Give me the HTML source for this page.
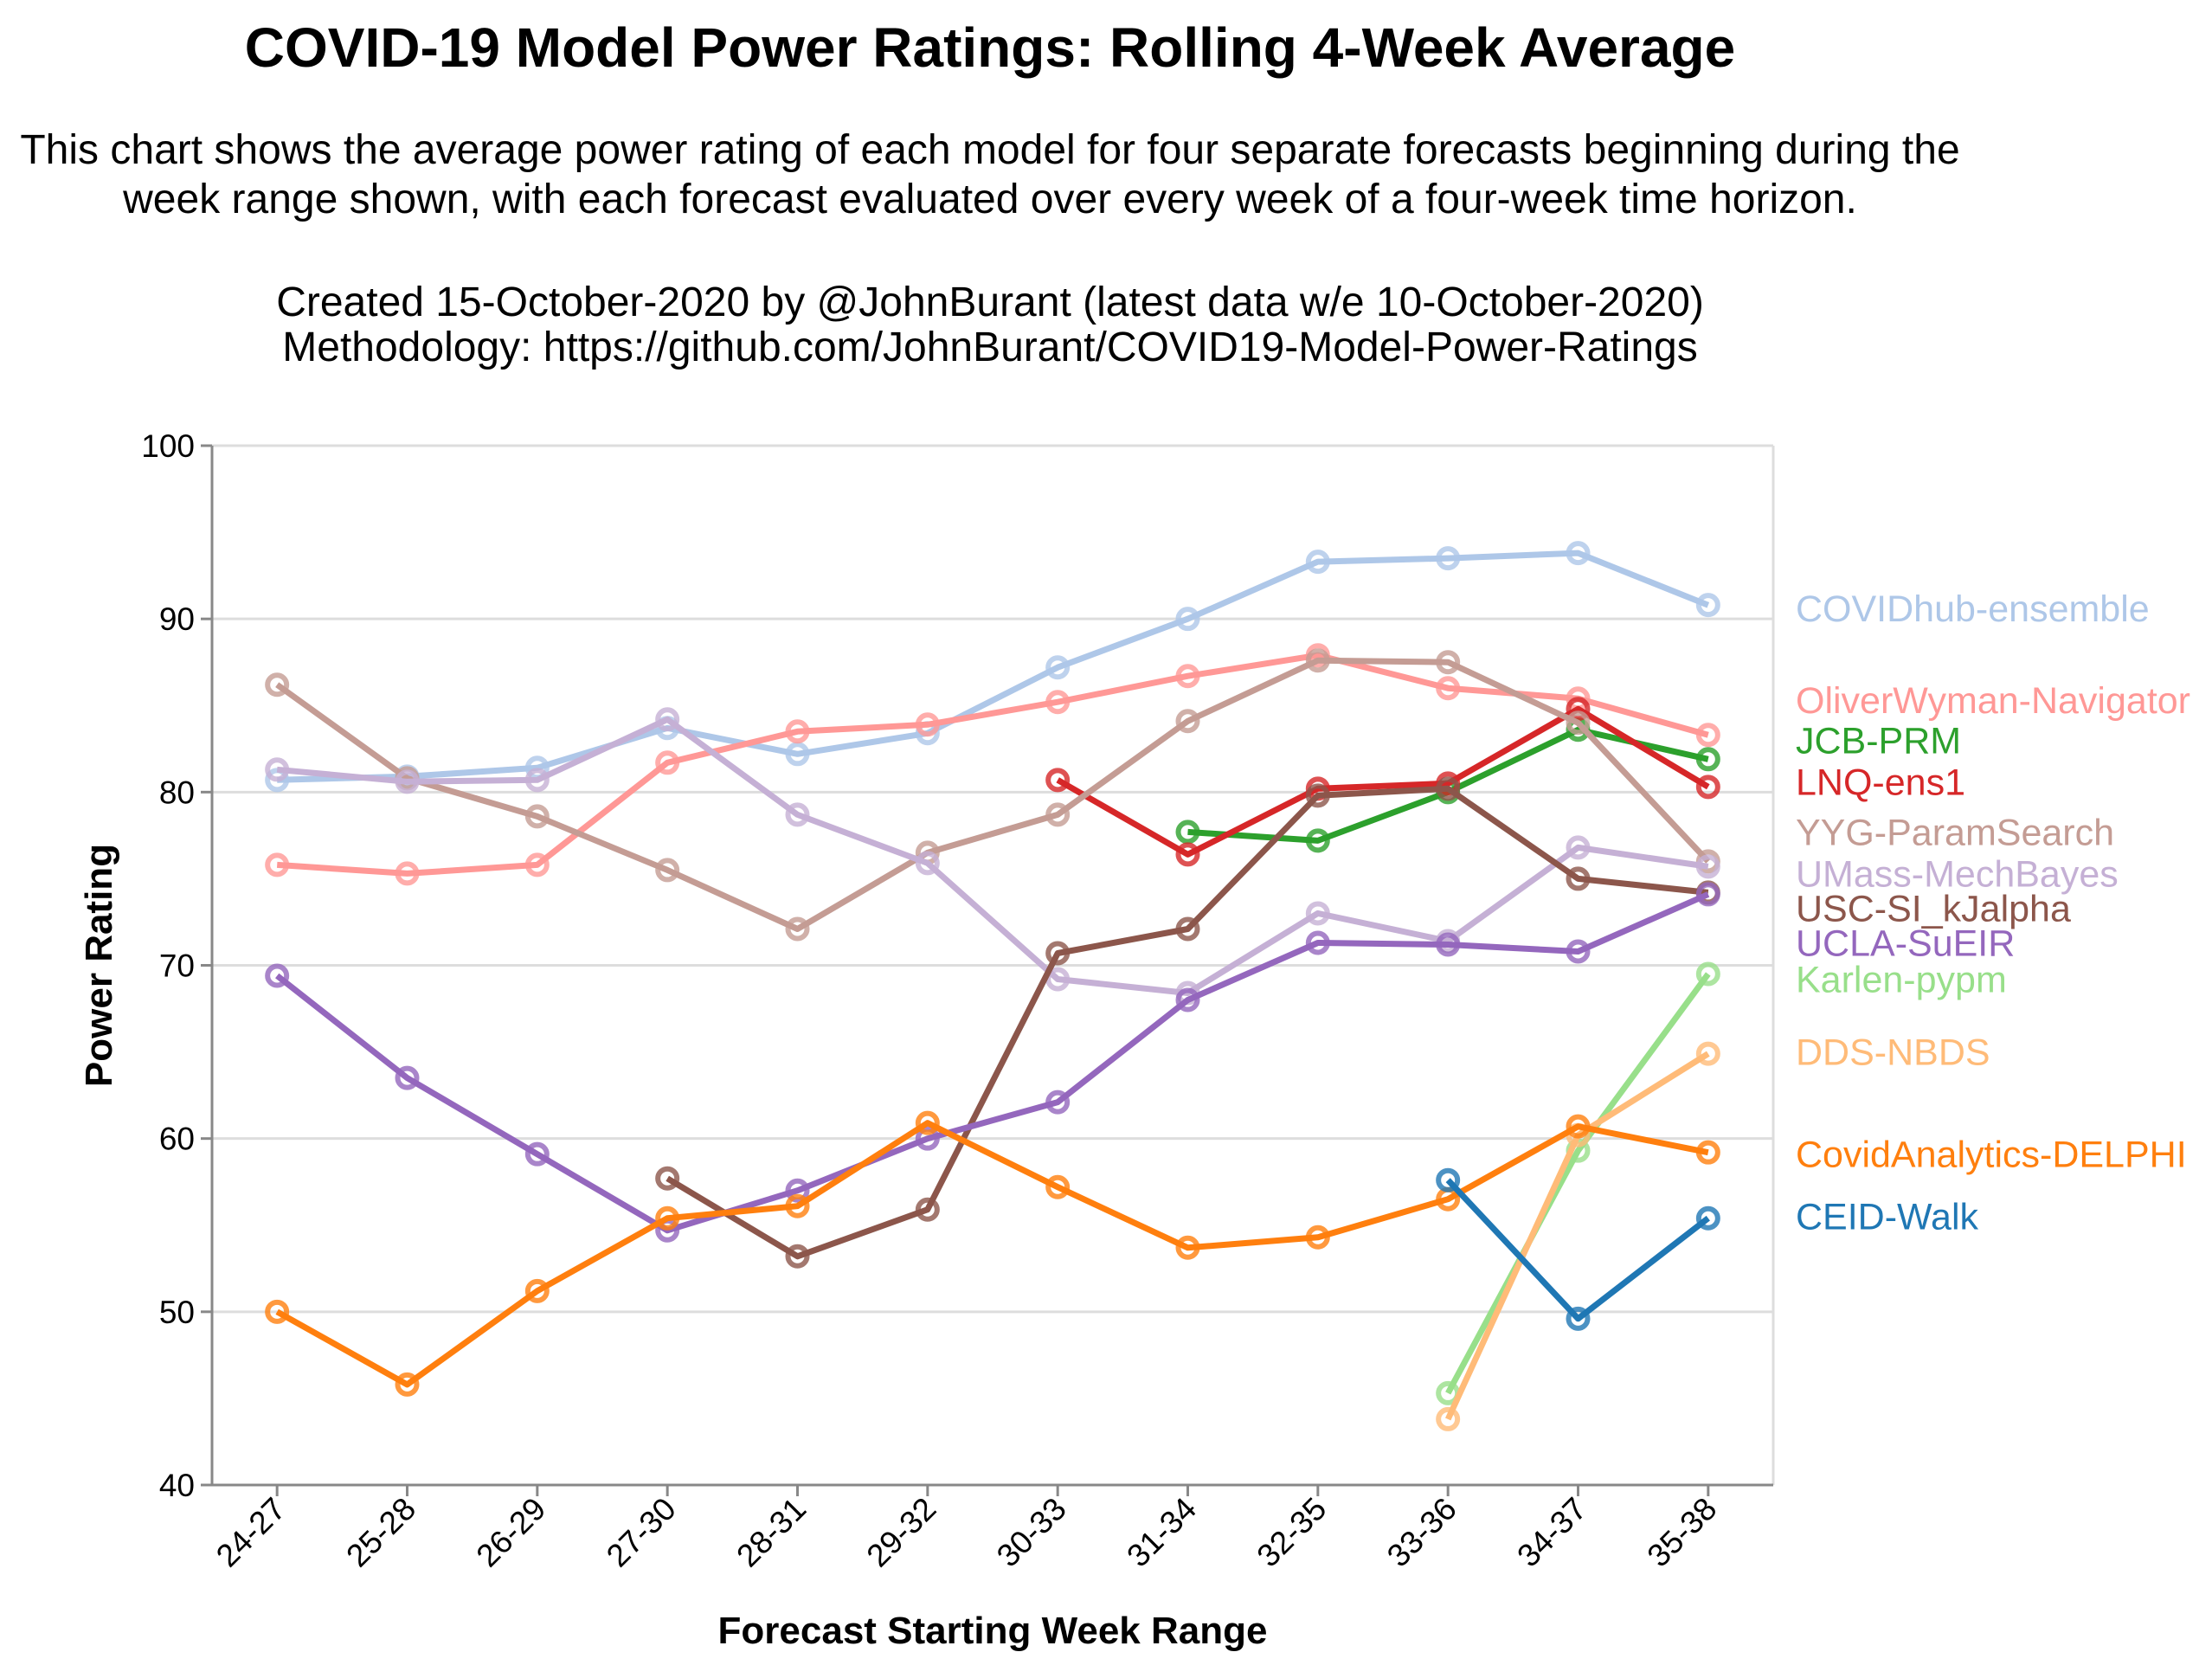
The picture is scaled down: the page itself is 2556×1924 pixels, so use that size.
<!DOCTYPE html>
<html><head><meta charset="utf-8"><style>
html,body{margin:0;padding:0;background:#fff;}
svg{display:block;font-family:"Liberation Sans",Arial,sans-serif;}
</style></head><body>
<svg id="chart" width="2556" height="1924" viewBox="0 0 2556 1924">
<text x="1144" y="77" text-anchor="middle" font-size="64" font-weight="bold">COVID-19 Model Power Ratings: Rolling 4-Week Average</text>
<g font-size="48" text-anchor="middle">
<text x="1144" y="189">This chart shows the average power rating of each model for four separate forecasts beginning during the</text>
<text x="1144" y="246">week range shown, with each forecast evaluated over every week of a four-week time horizon.</text>
<text x="1144" y="365">Created 15-October-2020 by @JohnBurant (latest data w/e 10-October-2020)</text>
<text x="1144" y="417">Methodology: https://github.com/JohnBurant/COVID19-Model-Power-Ratings</text>
</g>
<g id="grid"></g>
<g id="axes"></g>
<g id="series"></g>
<g id="legend"></g>
</svg>
<script>
const categories = ["24-27","25-28","26-29","27-30","28-31","29-32","30-33","31-34","32-35","33-36","34-37","35-38"];
const yTicks = [40,50,60,70,80,90,100];
const seriesNames = ["COVIDhub-ensemble","OliverWyman-Navigator","JCB-PRM","LNQ-ens1","YYG-ParamSearch","UMass-MechBayes","USC-SI_kJalpha","UCLA-SuEIR","Karlen-pypm","DDS-NBDS","CovidAnalytics-DELPHI","CEID-Walk"];
const seriesColors = ["#aec7e8","#ff9896","#2ca02c","#d62728","#c49c94","#c5b0d5","#8c564b","#9467bd","#98df8a","#ffbb78","#ff7f0e","#1f77b4"];
const covidhub = [80.7,80.9,81.4,83.7,82.2,83.4,87.2,90.0,93.3,93.5,93.8,90.8];
const oliverWyman = [75.8,75.3,75.8,81.7,83.5,83.9,85.2,86.7,87.9,86.0,85.4,83.3];
const jcb = [null,null,null,null,null,null,null,77.7,77.2,80.0,83.6,81.9];
const lnq = [null,null,null,null,null,null,80.7,76.4,80.2,80.5,84.8,80.3];
const yyg = [86.2,80.8,78.6,75.5,72.1,76.5,78.7,84.1,87.6,87.5,84.0,76.0];
const umass = [81.3,80.6,80.7,84.2,78.7,75.9,69.2,68.4,73.0,71.4,76.8,75.7];
const usc = [null,null,null,57.7,53.2,55.9,70.7,72.1,79.8,80.2,75.0,74.2];
const ucla = [69.4,63.5,59.1,54.7,57.0,60.0,62.1,68.0,71.3,71.2,70.8,74.1];
const karlen = [null,null,null,null,null,null,null,null,null,45.3,59.3,69.5];
const dds = [null,null,null,null,null,null,null,null,null,43.8,60.2,64.9];
const delphi = [50.0,45.8,51.2,55.4,56.1,60.9,57.2,53.7,54.3,56.5,60.7,59.2];
const ceid = [null,null,null,null,null,null,null,null,null,57.6,49.6,55.4];
const legendValues = [90.6,85.3,83.0,80.6,77.7,75.3,73.3,71.3,69.2,65.0,59.1,55.5];

const seriesData=[covidhub,oliverWyman,jcb,lnq,yyg,umass,usc,ucla,karlen,dds,delphi,ceid];
const NS="http://www.w3.org/2000/svg";
const L=245,R=2049,T=515,B=1716;
const band=(R-L)/categories.length;
const xs=i=>L+band*(i+0.5);
const ys=v=>B-(v-40)/(100-40)*(B-T);
function mk(tag,attrs,parent){const e=document.createElementNS(NS,tag);for(const k in attrs)e.setAttribute(k,attrs[k]);parent.appendChild(e);return e;}
const grid=document.getElementById('grid'),axes=document.getElementById('axes'),ser=document.getElementById('series'),leg=document.getElementById('legend');
yTicks.forEach(t=>{
  const g=mk('line',{x1:L,x2:R,y1:ys(t),y2:ys(t),stroke:'#ddd','stroke-width':3},grid);
  
  
  const tk=mk('line',{x1:L-13,x2:L,y1:ys(t),y2:ys(t),stroke:'#888','stroke-width':3},axes);
  
  
  const tx=mk('text',{x:L-20,y:ys(t)+13,'text-anchor':'end','font-size':37},axes);
  tx.textContent=t;
  
  
});
const rb=mk('line',{x1:R,x2:R,y1:T,y2:B,stroke:'#ddd','stroke-width':3},grid);


const ya=mk('line',{x1:L,x2:L,y1:T,y2:B,stroke:'#888','stroke-width':3},axes);


const xa=mk('line',{x1:L,x2:R,y1:B,y2:B,stroke:'#888','stroke-width':3},axes);


categories.forEach((c,i)=>{
  const tk=mk('line',{x1:xs(i),x2:xs(i),y1:B,y2:B+13,stroke:'#888','stroke-width':3},axes);
  
  
  const tx=mk('text',{x:xs(i)+12,y:B+30,'text-anchor':'end','font-size':37,transform:`rotate(-45 ${xs(i)+12} ${B+30})`},axes);
  tx.textContent=c;
  
  
});
const xt=mk('text',{x:(L+R)/2,y:1899,'text-anchor':'middle','font-size':44,'font-weight':'bold'},axes);
xt.textContent='Forecast Starting Week Range';


const yt=mk('text',{x:0,y:0,'text-anchor':'middle','font-size':44,'font-weight':'bold',transform:`translate(129 ${(T+B)/2}) rotate(-90)`},axes);
yt.textContent='Power Rating';


seriesData.forEach((d,s)=>{
  const g=mk('g',{},ser);
  
  
  let p='';
  d.forEach((v,i)=>{if(v==null)return;p+=(p?'L':'M')+xs(i).toFixed(1)+' '+ys(v).toFixed(1);});
  const path=mk('path',{d:p,fill:'none',stroke:seriesColors[s],'stroke-width':7,'stroke-linejoin':'round'},g);
  
  
  d.forEach((v,i)=>{if(v==null)return;
    const c=mk('circle',{cx:xs(i),cy:ys(v),r:11,fill:'none',stroke:seriesColors[s],'stroke-width':6,'stroke-opacity':0.8},g);
    
    
  });
  const lt=mk('text',{x:2075,y:ys(legendValues[s])+15,'font-size':43,fill:seriesColors[s]},leg);
  lt.textContent=seriesNames[s];
  
  
});
</script>
</body></html>
